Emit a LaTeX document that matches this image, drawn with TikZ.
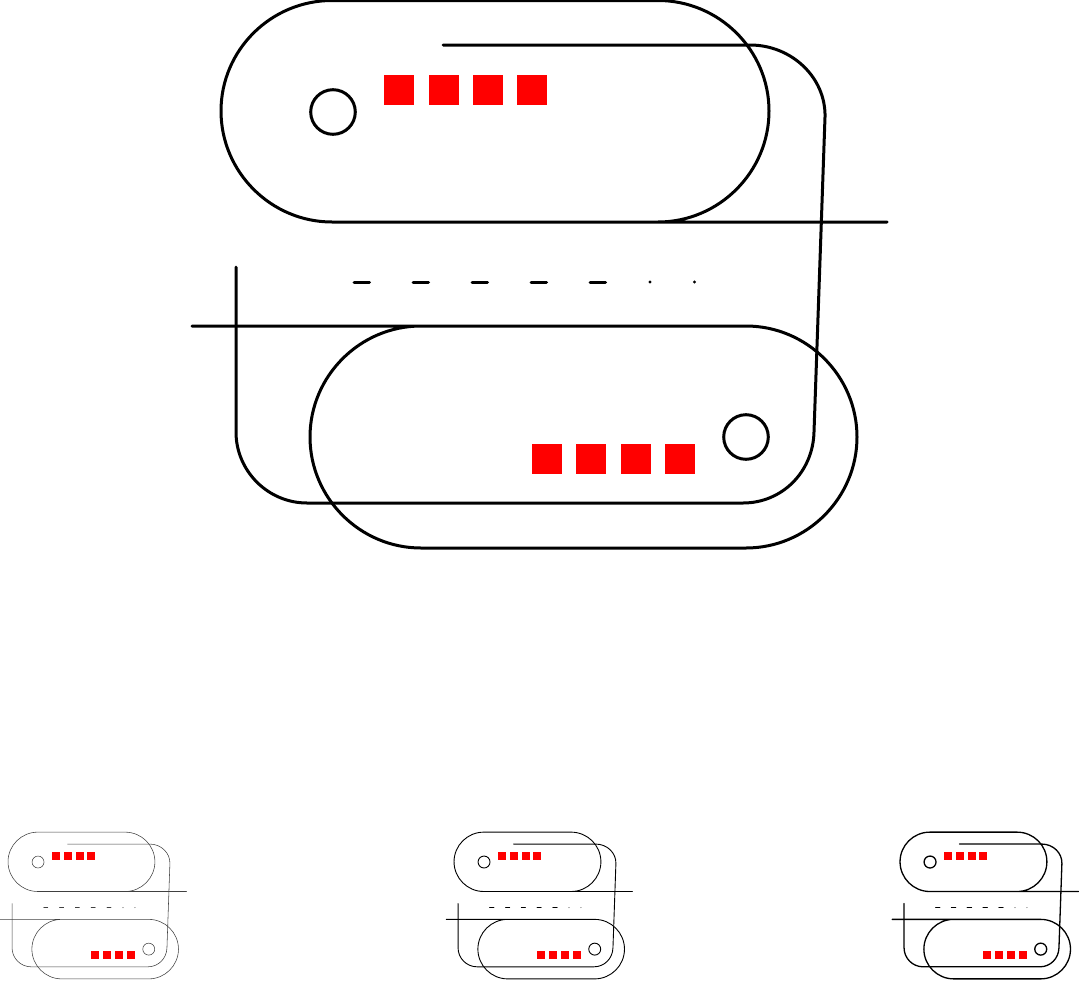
\documentclass[tikz,border=0pt]{standalone}
\definecolor{iconred}{RGB}{255,0,0}
\tikzset{
  iconline/.style={line cap=round,line join=round},
  redsq/.style={fill=iconred,draw=none},
}
\newcommand{\serviceicon}{%
  % upper pill, its lower edge running on to the right
  \draw[iconline] (887,222) -- (332,222)
    .. controls (271,222) and (221,172) .. (221,111)
    .. controls (221,50) and (271,0.5) .. (332,0.5)
    -- (658,0.5)
    .. controls (719,0.5) and (769,50) .. (769,111)
    .. controls (769,172) and (719,222) .. (658,222);
  % lower pill, its upper edge running on to the left
  \draw[iconline] (192,326) -- (746,326)
    .. controls (807,326) and (857,376) .. (857,437)
    .. controls (857,498) and (807,548) .. (746,548)
    -- (421,548)
    .. controls (360,548) and (310,498) .. (310,437)
    .. controls (310,376) and (360,326) .. (421,326);
  % long connecting loop
  \draw[iconline] (443,45) -- (750,45)
    .. controls (792,45) and (826,78) .. (825,117)
    -- (814,432)
    .. controls (813,472) and (782,503) .. (743,503)
    -- (307,503)
    .. controls (268,503) and (236,471) .. (236,432)
    -- (236,267);
  % LED circles
  \draw (333,112) circle[radius=22.3];
  \draw (746,437) circle[radius=22.3];
  % red squares
  \foreach \x in {384,428.5,473,517}{\fill[redsq] (\x,75) rectangle ++(30,30);}
  \foreach \x in {532,576,620.5,665}{\fill[redsq] (\x,444) rectangle ++(30,30);}
  % dashes and dots
  \foreach \x in {354,413,472,531,590}{\draw[iconline] (\x,282) -- ++(15.5,0);}
  \foreach \x in {650,694.5}{\fill (\x,282) circle[radius=1.6];}
}
\begin{document}
\begin{tikzpicture}[x=1pt,y=-1pt]
  \useasboundingbox (0,0) rectangle (1079,980);
  \clip (0,0) rectangle (1079,980);
  \begin{scope}[line width=3pt]\serviceicon\end{scope}
  \begin{scope}[shift={(-51.2,832)},x=0.268pt,y=-0.268pt,line width=0.55pt,draw=black!75]\serviceicon\end{scope}
  \begin{scope}[shift={(394.8,832)},x=0.268pt,y=-0.268pt,line width=0.9pt]\serviceicon\end{scope}
  \begin{scope}[shift={(840.8,832)},x=0.268pt,y=-0.268pt,line width=1.3pt]\serviceicon\end{scope}
\end{tikzpicture}
\end{document}
